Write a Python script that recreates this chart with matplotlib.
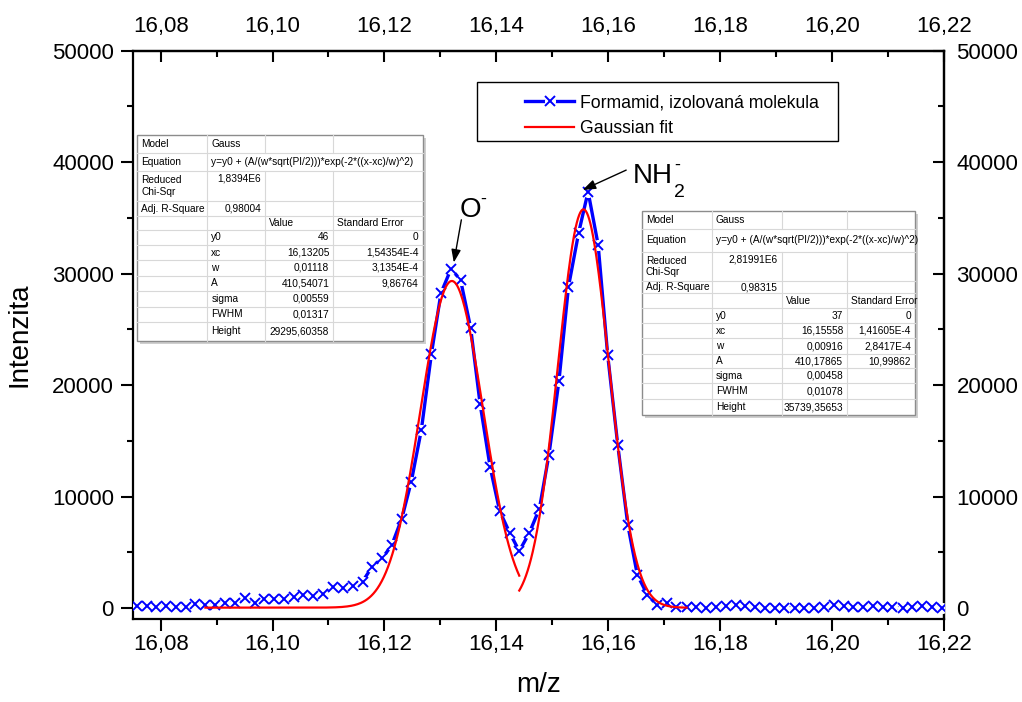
import numpy as np
import matplotlib
matplotlib.use('Agg')
import matplotlib.pyplot as plt
from matplotlib.patches import Rectangle
from matplotlib.ticker import FixedLocator, FuncFormatter
from matplotlib.legend_handler import HandlerTuple

plt.rcParams['font.family'] = ['Liberation Sans', 'DejaVu Sans']

# namerene spektrum
mz = [16.0757, 16.0775, 16.0792, 16.0810, 16.0827, 16.0845, 16.0862, 16.0880, 16.0897, 16.0915,
      16.0933, 16.0950, 16.0968, 16.0985, 16.1003, 16.1020, 16.1038, 16.1055, 16.1073, 16.1090,
      16.1108, 16.1126, 16.1143, 16.1161, 16.1178, 16.1196, 16.1213, 16.1231, 16.1248, 16.1266,
      16.1284, 16.1301, 16.1319, 16.1336, 16.1354, 16.1371, 16.1389, 16.1406, 16.1424, 16.1441,
      16.1459, 16.1477, 16.1494, 16.1512, 16.1529, 16.1547, 16.1564, 16.1582, 16.1599, 16.1617,
      16.1635, 16.1652, 16.1670, 16.1687, 16.1705, 16.1722, 16.1740, 16.1757, 16.1775, 16.1792,
      16.1810, 16.1828, 16.1845, 16.1863, 16.1880, 16.1898, 16.1915, 16.1933, 16.1950, 16.1968,
      16.1986, 16.2003, 16.2021, 16.2038, 16.2056, 16.2073, 16.2091, 16.2108, 16.2126, 16.2143,
      16.2161, 16.2179, 16.2196]
intensity = [150, 150, 140, 150, 140, 90, 385, 300, 300, 500,
             500, 900, 500, 810, 810, 810, 990, 1190, 1100, 1280,
             1880, 1790, 2000, 2390, 3720, 4480, 5630, 8030, 11350, 15990,
             22810, 28250, 30430, 29450, 25170, 18320, 12640, 8700, 6750, 5120,
             6750, 8920, 13750, 20410, 28840, 33630, 37360, 32580, 22720, 14650,
             7470, 2990, 1190, 300, 450, 90, 90, 60, 20, 60,
             150, 300, 150, 60, 20, 20, 20, 20, 20, 20,
             60, 300, 150, 60, 60, 150, 60, 60, 20, 60,
             150, 60, 20]

# parametry gaussovskych fitu (y0, xc, w, A) a rozsah fitu
o_fit = (46, 16.13205, 0.01118, 410.54071)
o_range = (16.0880, 16.1441)
nh_fit = (37, 16.15558, 0.00916, 410.17865)
nh_range = (16.1441, 16.1740)

# tabulky vysledku fitu
equation = 'y=y0 + (A/(w*sqrt(PI/2)))*exp(-2*((x-xc)/w)^2)'
param_names = ['y0', 'xc', 'w', 'A', 'sigma', 'FWHM', 'Height']
o_chi = '1,8394E6'
o_r2 = '0,98004'
o_values = ['46', '16,13205', '0,01118', '410,54071', '0,00559', '0,01317', '29295,60358']
o_errors = ['0', '1,54354E-4', '3,1354E-4', '9,86764', '', '', '']
nh_chi = '2,81991E6'
nh_r2 = '0,98315'
nh_values = ['37', '16,15558', '0,00916', '410,17865', '0,00458', '0,01078', '35739,35653']
nh_errors = ['0', '1,41605E-4', '2,8417E-4', '10,99862', '', '', '']

x_major = [16.08, 16.10, 16.12, 16.14, 16.16, 16.18, 16.20, 16.22]
x_minor = [16.09, 16.11, 16.13, 16.15, 16.17, 16.19, 16.21]
y_major = [0, 10000, 20000, 30000, 40000, 50000]
y_minor = [5000, 15000, 25000, 35000, 45000]


def gauss(x, y0, xc, w, A):
    return y0 + A / (w * np.sqrt(np.pi / 2)) * np.exp(-2 * ((x - xc) / w) ** 2)


fig = plt.figure(figsize=(10.22, 7.02), dpi=100)
ax = fig.add_axes([0.1298, 0.1178, 0.7938, 0.81])

h_line, = ax.plot(mz, intensity, '-', color='blue', lw=2.4, zorder=3)
h_gap, = ax.plot(mz, intensity, 'o', ms=8, mfc='white', mec='none', zorder=3.1)
h_x, = ax.plot(mz, intensity, 'x', ms=7.5, mew=1.4, color='blue', zorder=3.2)

x_o = np.linspace(o_range[0], o_range[1], 300)
h_fit, = ax.plot(x_o, gauss(x_o, *o_fit), color='red', lw=1.6, zorder=4)
x_nh = np.linspace(nh_range[0], nh_range[1], 300)
ax.plot(x_nh, gauss(x_nh, *nh_fit), color='red', lw=1.6, zorder=4)

ax.set_xlim(16.075, 16.22)
ax.set_ylim(-1000, 50000)

xfmt = FuncFormatter(lambda v, p: f'{v:.2f}'.replace('.', ','))
yfmt = FuncFormatter(lambda v, p: f'{v:.0f}')


def set_ticks(xa, major, minor, fmt):
    xa.set_major_locator(FixedLocator(major))
    xa.set_minor_locator(FixedLocator(minor))
    xa.set_major_formatter(fmt)


set_ticks(ax.xaxis, x_major, x_minor, xfmt)
set_ticks(ax.yaxis, y_major, y_minor, yfmt)

ax.tick_params(axis='x', which='both', direction='out', width=1.5, labelsize=16, pad=2, top=False)
ax.tick_params(axis='y', which='both', direction='out', width=1.5, labelsize=16, pad=5, right=False)
ax.tick_params(which='major', length=8.5)
ax.tick_params(which='minor', length=4.5)
for s in ax.spines.values():
    s.set_linewidth(1.6)

# horni a prava osa s tiky dovnitr
top = ax.secondary_xaxis('top')
set_ticks(top.xaxis, x_major, x_minor, xfmt)
top.tick_params(which='both', direction='in', width=1.5, labelsize=16, pad=9.5)
top.tick_params(which='major', length=8)
top.tick_params(which='minor', length=4.5)
top.spines['top'].set_linewidth(1.6)

right = ax.secondary_yaxis('right')
set_ticks(right.yaxis, y_major, y_minor, yfmt)
right.tick_params(which='both', direction='in', width=1.5, labelsize=16, pad=9)
right.tick_params(which='major', length=8)
right.tick_params(which='minor', length=4.5)
right.spines['right'].set_linewidth(1.6)

ax.set_xlabel('m/z', fontsize=20, labelpad=12)
ax.set_ylabel('Intenzita', fontsize=20, labelpad=14)

# popisky piku
arrow = dict(arrowstyle='-|>,head_length=0.6,head_width=0.22', color='black', lw=1,
             mutation_scale=13, shrinkA=0, shrinkB=0)
ax.annotate('', xy=(16.1324, 31000), xytext=(16.13375, 34830), arrowprops=arrow, zorder=6)
ax.text(16.1335, 35080, 'O', fontsize=20, ha='left', va='baseline')
ax.text(16.1371, 36710, '-', fontsize=13, ha='left', va='center')
ax.annotate('', xy=(16.15544, 37510), xytext=(16.16321, 39290), arrowprops=arrow, zorder=6)
ax.text(16.16434, 38145, 'NH', fontsize=20, ha='left', va='baseline')
ax.text(16.1717, 36880, '2', fontsize=14, ha='left', va='baseline')
ax.text(16.1718, 39760, '-', fontsize=13, ha='left', va='center')

# legenda
ax.add_patch(Rectangle((0.4244, 0.8412), 0.445, 0.1038, transform=ax.transAxes,
                       fc='white', ec='black', lw=1, zorder=5))
ax.legend([(h_line, h_gap, h_x), h_fit], ['Formamid, izolovaná molekula', 'Gaussian fit'],
          handler_map={tuple: HandlerTuple(ndivide=1, pad=0)}, loc='center left',
          bbox_to_anchor=(0.4835, 0.8852), frameon=False, fontsize=12.7, numpoints=1,
          handlelength=2.8, handletextpad=0.3, borderpad=0, borderaxespad=0,
          labelspacing=0.5).set_zorder(6)

# tabulky fitu v pixelech obrazku
tax = fig.add_axes([0, 0, 1, 1])
tax.set_xlim(0, 1022)
tax.set_ylim(702, 0)
tax.axis('off')


def draw_table(xs, ys, chi, r2, values, errors):
    x0, x1, y0, y1 = xs[0], xs[-1], ys[0], ys[-1]
    tax.add_patch(Rectangle((x0 + 3, y0 + 3), x1 - x0, y1 - y0, fc='#cfcfcf', ec='none'))
    box = Rectangle((x0, y0), x1 - x0, y1 - y0, fc='white', ec='#8c8c8c', lw=1)
    tax.add_patch(box)
    for y in ys[1:-1]:
        tax.plot([x0, x1], [y, y], color='#d8d8d8', lw=0.8)
    for i in range(len(ys) - 1):
        cols = xs[1:2] if i == 1 else xs[1:-1]
        for x in cols:
            tax.plot([x, x], [ys[i], ys[i + 1]], color='#d8d8d8', lw=0.8)

    def put(r, c, s, ha='left', va='center'):
        x = xs[c] + 4 if ha == 'left' else xs[c + 1] - 4
        y = (ys[r] + ys[r + 1]) / 2 if va == 'center' else ys[r] + 3
        t = tax.text(x, y, s, fontsize=7.3, ha=ha, va=va)
        t.set_clip_path(box)

    put(0, 0, 'Model')
    put(0, 1, 'Gauss')
    put(1, 0, 'Equation')
    put(1, 1, equation)
    put(2, 0, 'Reduced\nChi-Sqr')
    put(2, 1, chi, 'right', 'top')
    put(3, 0, 'Adj. R-Square')
    put(3, 1, r2, 'right')
    put(4, 2, 'Value')
    put(4, 3, 'Standard Error')
    for k, name in enumerate(param_names):
        put(5 + k, 1, name)
        put(5 + k, 2, values[k], 'right')
        put(5 + k, 3, errors[k], 'right')


draw_table([137.3, 207.3, 265, 333.3, 422.7],
           [135, 152.7, 170.7, 201, 216, 230, 245, 260, 275.7, 291, 306.7, 321.7, 340.7],
           o_chi, o_r2, o_values, o_errors)
draw_table([641.7, 711.7, 781.7, 847.3, 915],
           [211, 229, 251.7, 281, 293.3, 308.3, 323.3, 338.3, 354, 368.3, 383.3, 399, 415],
           nh_chi, nh_r2, nh_values, nh_errors)

fig.savefig('out.png', dpi=100)
